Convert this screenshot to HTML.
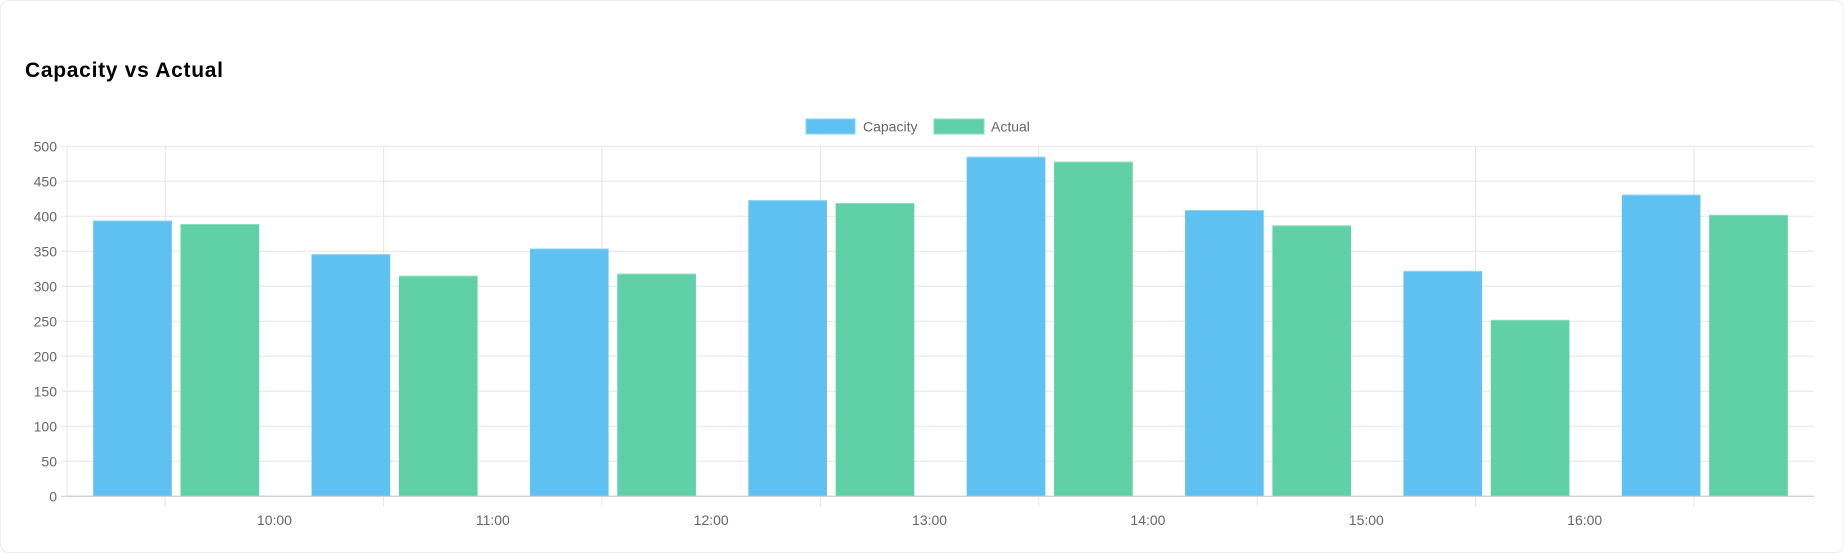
<!DOCTYPE html>
<html><head><meta charset="utf-8"><style>
html,body{margin:0;padding:0;background:#fff;}
svg{display:block;font-family:"Liberation Sans",sans-serif;}
</style></head><body>
<svg id="chart" width="1844" height="553" viewBox="0 0 1844 553">
<rect x="0.5" y="0.5" width="1843" height="552" rx="8" fill="#fff" stroke="#eee"/>
<text x="25" y="77" font-size="21" font-weight="bold" fill="#000" textLength="198">Capacity vs Actual</text>
<g>
<g><rect x="806" y="119" width="49" height="15" fill="#5ec1f1" stroke="#8fd4f5"/><text x="863" y="131.5" font-size="14" fill="#666">Capacity</text></g>
<g><rect x="934" y="119" width="50" height="15" fill="#60d0a9" stroke="#8cdcc0"/><text x="991" y="131.5" font-size="14" fill="#666">Actual</text></g>
</g>
<g id="grid"></g><g id="bars"></g><g id="axes"></g>
</svg>
<script>
const categories=["09:30","10:30","11:30","12:30","13:30","14:30","15:30","16:30"];
const capacity=[394,346,354,423,485,409,322,431];
const actual=[389,315,318,419,478,387,252,402];
const yTicks=[0,50,100,150,200,250,300,350,400,450,500];
const xTickLabels=["10:00","11:00","12:00","13:00","14:00","15:00","16:00"];
const NS="http://www.w3.org/2000/svg";
const L=67,R=1814,T=146.3,B=496.3,yMax=500;
const y=v=>B-(v/yMax)*(B-T);
const cw=(R-L)/categories.length;
const xc=i=>L+cw*(i+0.5);
function mk(tag,attrs,parent){const e=document.createElementNS(NS,tag);for(const k in attrs)e.setAttribute(k,attrs[k]);parent.appendChild(e);return e;}
const grid=document.getElementById('grid'),bars=document.getElementById('bars'),axes=document.getElementById('axes');
yTicks.forEach(t=>{
 const ln=mk('line',{x1:L-6,x2:R,y1:y(t),y2:y(t),stroke:t===0?'#ccc':'#e5e5e5','stroke-width':1},grid);
 
 
 const tx=mk('text',{x:L-10,y:y(t)+5,'text-anchor':'end','font-size':14,fill:'#666'},axes);
 tx.textContent=t;
 
 
});
mk('line',{x1:L,x2:L,y1:T,y2:B,stroke:'#e5e5e5'},grid);
for(let k=0;k<=xTickLabels.length;k++){
 const gx=L+cw*(k+0.45);
 const ln=mk('line',{x1:gx,x2:gx,y1:T,y2:B+10,stroke:'#e5e5e5'},grid);
 
 
}
xTickLabels.forEach((lab,k)=>{
 const tx=mk('text',{x:L+cw*(k+0.95),y:525,'text-anchor':'middle','font-size':14,fill:'#666'},axes);
 tx.textContent=lab;
 
 
});
const slot=cw*0.8/2,bw=slot*0.9;
categories.forEach((c,i)=>{
 [[capacity,'#5ec1f1','#8fd4f5',-1,'capacity'],[actual,'#60d0a9','#8cdcc0',1,'actual']].forEach(([arr,f,s,d,n])=>{
  const cx=xc(i)+d*slot/2;
  const r=mk('rect',{x:cx-bw/2,y:y(arr[i]),width:bw,height:B-y(arr[i]),fill:f},bars);
  
  
  mk('line',{x1:cx-bw/2,x2:cx+bw/2,y1:y(arr[i])+0.5,y2:y(arr[i])+0.5,stroke:s},bars);
 });
});
mk('line',{x1:L,x2:R,y1:B,y2:B,stroke:'#ccc'},axes);
</script>
</body></html>
